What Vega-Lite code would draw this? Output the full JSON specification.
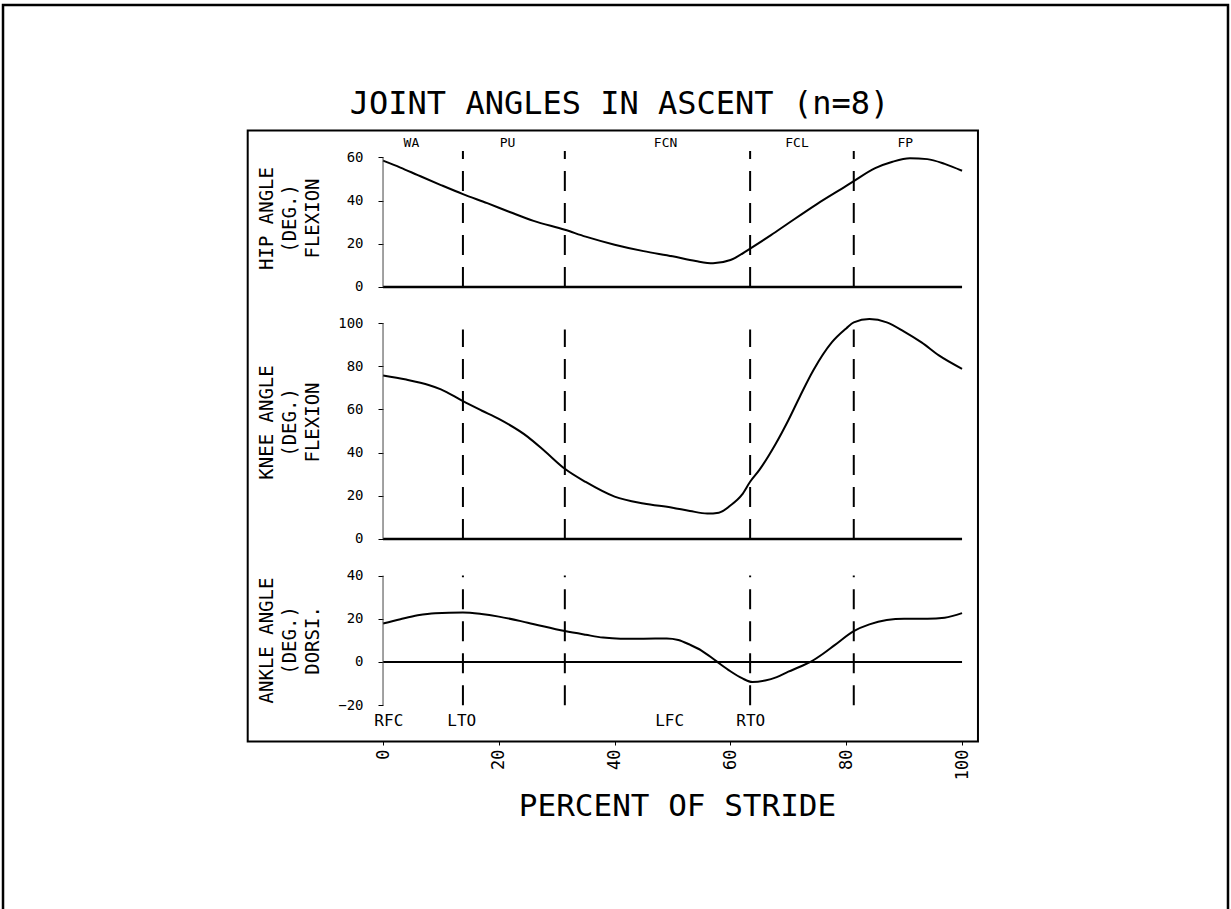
{
  "$schema": "https://vega.github.io/schema/vega-lite/v6.json",
  "width": 1231,
  "height": 741,
  "autosize": {"type": "none"},
  "padding": {"left": 0, "top": 0, "right": 0, "bottom": 168},
  "background": "white",
  "title": {
    "text": "JOINT ANGLES IN ASCENT (n=8)",
    "font": "DejaVu Sans Mono",
    "fontSize": 32,
    "fontWeight": "normal",
    "color": "black",
    "anchor": "middle",
    "frame": "group",
    "offset": -146,
    "baseline": "alphabetic",
    "dx": 4
  },
  "config": {
    "view": {"stroke": null},
    "font": "DejaVu Sans Mono",
    "text": {"font": "DejaVu Sans Mono", "color": "black"},
    "axis": {
      "labelFont": "DejaVu Sans Mono",
      "titleFont": "DejaVu Sans Mono",
      "labelColor": "black",
      "titleColor": "black",
      "titleFontWeight": "normal",
      "tickColor": "black",
      "grid": false,
      "labelFlush": false,
      "labelBound": false,
      "labelOverlap": false
    }
  },
  "datasets": {
    "hip": [
      {"pct": 0, "angle": 58.5}, {"pct": 3, "angle": 55.3}, {"pct": 6, "angle": 51.8},
      {"pct": 10, "angle": 47.2}, {"pct": 13.8, "angle": 43}, {"pct": 18, "angle": 38.8},
      {"pct": 22, "angle": 34.6}, {"pct": 26, "angle": 30.6}, {"pct": 31.4, "angle": 26.5},
      {"pct": 35, "angle": 23.3}, {"pct": 40, "angle": 19.6}, {"pct": 45, "angle": 16.6},
      {"pct": 50, "angle": 14.2}, {"pct": 54, "angle": 12}, {"pct": 57, "angle": 11},
      {"pct": 60, "angle": 12.5}, {"pct": 63.4, "angle": 17.8}, {"pct": 67, "angle": 24},
      {"pct": 70, "angle": 29.5}, {"pct": 75, "angle": 38.5}, {"pct": 80, "angle": 46.8},
      {"pct": 81.3, "angle": 49}, {"pct": 85, "angle": 55}, {"pct": 88, "angle": 58},
      {"pct": 91, "angle": 59.6}, {"pct": 94, "angle": 59.2}, {"pct": 97, "angle": 57},
      {"pct": 100, "angle": 53.8}
    ],
    "knee": [
      {"pct": 0, "angle": 75.7}, {"pct": 4, "angle": 73.8}, {"pct": 8, "angle": 71.2},
      {"pct": 10, "angle": 69.3}, {"pct": 13.8, "angle": 63.8}, {"pct": 17, "angle": 59.5},
      {"pct": 20, "angle": 55.6}, {"pct": 25, "angle": 47.3}, {"pct": 28, "angle": 40.5},
      {"pct": 31.4, "angle": 32.5}, {"pct": 35, "angle": 26.4}, {"pct": 40, "angle": 19.6},
      {"pct": 45, "angle": 16.4}, {"pct": 50, "angle": 14.5}, {"pct": 53, "angle": 13},
      {"pct": 56, "angle": 11.8}, {"pct": 58, "angle": 12.2}, {"pct": 60, "angle": 15.5},
      {"pct": 62, "angle": 20.5}, {"pct": 63.4, "angle": 26.5}, {"pct": 65, "angle": 32},
      {"pct": 67.8, "angle": 44}, {"pct": 70, "angle": 55}, {"pct": 72, "angle": 66},
      {"pct": 74.3, "angle": 78}, {"pct": 77.5, "angle": 91}, {"pct": 80, "angle": 97.5},
      {"pct": 81.3, "angle": 100.3}, {"pct": 84, "angle": 101.8}, {"pct": 87, "angle": 100.3},
      {"pct": 90, "angle": 96}, {"pct": 93, "angle": 91}, {"pct": 96, "angle": 85},
      {"pct": 100, "angle": 78.8}
    ],
    "ankle": [
      {"pct": 0, "angle": 17.8}, {"pct": 3, "angle": 19.8}, {"pct": 6, "angle": 21.6},
      {"pct": 9, "angle": 22.6}, {"pct": 13.8, "angle": 22.9}, {"pct": 17, "angle": 22.2},
      {"pct": 20, "angle": 21}, {"pct": 25, "angle": 18.2}, {"pct": 31.4, "angle": 14.3},
      {"pct": 35, "angle": 12.6}, {"pct": 38, "angle": 11.3}, {"pct": 41, "angle": 10.8},
      {"pct": 45, "angle": 10.8}, {"pct": 49, "angle": 10.9}, {"pct": 51, "angle": 10.2},
      {"pct": 53, "angle": 8}, {"pct": 55, "angle": 5.3}, {"pct": 57.5, "angle": 0.5},
      {"pct": 60, "angle": -4.3}, {"pct": 62, "angle": -7.5}, {"pct": 63.8, "angle": -9.3},
      {"pct": 66, "angle": -8.6}, {"pct": 68, "angle": -7}, {"pct": 70, "angle": -4.5},
      {"pct": 72, "angle": -2.2}, {"pct": 74, "angle": 0.3}, {"pct": 76, "angle": 3.8},
      {"pct": 78, "angle": 7.8}, {"pct": 81.3, "angle": 14.3}, {"pct": 84, "angle": 17.4},
      {"pct": 87, "angle": 19.4}, {"pct": 90, "angle": 20}, {"pct": 94, "angle": 20},
      {"pct": 97, "angle": 20.5}, {"pct": 100, "angle": 22.6}
    ],
    "events": [{"pct": 13.8}, {"pct": 31.4}, {"pct": 63.4}, {"pct": 81.3}],
    "phases": [
      {"pct": 4.9, "label": "WA"}, {"pct": 21.5, "label": "PU"}, {"pct": 48.8, "label": "FCN"},
      {"pct": 71.5, "label": "FCL"}, {"pct": 90.2, "label": "FP"}
    ],
    "eventLabels": [
      {"pct": 1.0, "label": "RFC"}, {"pct": 13.6, "label": "LTO"},
      {"pct": 49.5, "label": "LFC"}, {"pct": 63.5, "label": "RTO"}
    ],
    "one": [{"n": 1}]
  },
  "resolve": {"scale": {"y": "independent"}, "axis": {"x": "independent", "y": "independent"}},
  "layer": [
    {
      "data": {"name": "one"},
      "mark": {"type": "rect", "filled": false, "stroke": "black", "strokeWidth": 2.5},
      "encoding": {
        "x": {"datum": -65.63, "scale": {"domain": [-66.15, 146.45], "nice": false, "zero": false}, "axis": null},
        "x2": {"datum": 145.93},
        "y": {"datum": 130.55, "scale": {"domain": [-210.19, 132.87], "nice": false, "zero": false}, "axis": null},
        "y2": {"datum": -290.75}
      }
    },
    {
      "data": {"name": "one"},
      "mark": {"type": "rect", "filled": false, "stroke": "black", "strokeWidth": 2},
      "encoding": {
        "x": {"datum": -23.37, "scale": {"domain": [-66.15, 146.45], "nice": false, "zero": false}, "axis": null},
        "x2": {"datum": 102.75},
        "y": {"datum": 72.45, "scale": {"domain": [-210.19, 132.87], "nice": false, "zero": false}, "axis": null},
        "y2": {"datum": -210.42}
      }
    },
    {
      "data": {"name": "hip"},
      "mark": {"type": "line", "color": "black", "strokeWidth": 2, "interpolate": "monotone"},
      "encoding": {
        "x": {"field": "pct", "type": "quantitative", "scale": {"domain": [-66.15, 146.45], "nice": false, "zero": false}, "axis": null},
        "y": {
          "field": "angle", "type": "quantitative",
          "scale": {"domain": [-210.19, 132.87], "nice": false, "zero": false},
          "axis": {
            "orient": "left", "offset": -383, "values": [0, 20, 40, 60], "domain": false,
            "ticks": true, "tickSize": 5, "labelPadding": 15, "labelFontSize": 14,
            "title": ["HIP ANGLE", "(DEG.)", "FLEXION"], "titleFontSize": 19, "titleLineHeight": 23,
            "titleAngle": 270, "titleBaseline": "bottom", "titleAlign": "center",
            "titleX": -107, "titleY": 218
          }
        }
      }
    },
    {
      "data": {"name": "events"},
      "mark": {"type": "rule", "color": "black", "strokeWidth": 2, "strokeDash": [20, 12]},
      "encoding": {
        "x": {"field": "pct", "type": "quantitative", "scale": {"domain": [-66.15, 146.45], "nice": false, "zero": false}, "axis": null},
        "y": {"datum": 0, "scale": {"domain": [-210.19, 132.87], "nice": false, "zero": false}, "axis": null},
        "y2": {"datum": 63}
      }
    },
    {
      "data": {"name": "one"},
      "mark": {"type": "rule", "color": "black", "strokeWidth": 2.5},
      "encoding": {
        "x": {"datum": 0, "scale": {"domain": [-66.15, 146.45], "nice": false, "zero": false}, "axis": null},
        "x2": {"datum": 100},
        "y": {"datum": 0, "scale": {"domain": [-210.19, 132.87], "nice": false, "zero": false}, "axis": null}
      }
    },
    {
      "data": {"name": "one"},
      "mark": {"type": "rule", "color": "#444", "strokeWidth": 1},
      "encoding": {
        "x": {"datum": 0, "scale": {"domain": [-66.15, 146.45], "nice": false, "zero": false}, "axis": null},
        "y": {"datum": 0, "scale": {"domain": [-210.19, 132.87], "nice": false, "zero": false}, "axis": null},
        "y2": {"datum": 60}
      }
    },
    {
      "data": {"name": "phases"},
      "mark": {"type": "text", "fontSize": 13, "baseline": "middle", "align": "center", "color": "black"},
      "encoding": {
        "x": {"field": "pct", "type": "quantitative", "scale": {"domain": [-66.15, 146.45], "nice": false, "zero": false}, "axis": null},
        "y": {"datum": 66.7, "scale": {"domain": [-210.19, 132.87], "nice": false, "zero": false}, "axis": null},
        "text": {"field": "label"}
      }
    },
    {
      "data": {"name": "knee"},
      "mark": {"type": "line", "color": "black", "strokeWidth": 2, "interpolate": "monotone"},
      "encoding": {
        "x": {"field": "pct", "type": "quantitative", "scale": {"domain": [-66.15, 146.45], "nice": false, "zero": false}, "axis": null},
        "y": {
          "field": "angle", "type": "quantitative",
          "scale": {"domain": [-93.52, 249.54], "nice": false, "zero": false},
          "axis": {
            "orient": "left", "offset": -383, "values": [0, 20, 40, 60, 80, 100], "domain": false,
            "ticks": true, "tickSize": 5, "labelPadding": 15, "labelFontSize": 14,
            "title": ["KNEE ANGLE", "(DEG.)", "FLEXION"], "titleFontSize": 19, "titleLineHeight": 23,
            "titleAngle": 270, "titleBaseline": "bottom", "titleAlign": "center",
            "titleX": -107, "titleY": 422
          }
        }
      }
    },
    {
      "data": {"name": "events"},
      "mark": {"type": "rule", "color": "black", "strokeWidth": 2, "strokeDash": [20, 12]},
      "encoding": {
        "x": {"field": "pct", "type": "quantitative", "scale": {"domain": [-66.15, 146.45], "nice": false, "zero": false}, "axis": null},
        "y": {"datum": 0, "scale": {"domain": [-93.52, 249.54], "nice": false, "zero": false}, "axis": null},
        "y2": {"datum": 97}
      }
    },
    {
      "data": {"name": "one"},
      "mark": {"type": "rule", "color": "black", "strokeWidth": 2.5},
      "encoding": {
        "x": {"datum": 0, "scale": {"domain": [-66.15, 146.45], "nice": false, "zero": false}, "axis": null},
        "x2": {"datum": 100},
        "y": {"datum": 0, "scale": {"domain": [-93.52, 249.54], "nice": false, "zero": false}, "axis": null}
      }
    },
    {
      "data": {"name": "one"},
      "mark": {"type": "rule", "color": "#444", "strokeWidth": 1},
      "encoding": {
        "x": {"datum": 0, "scale": {"domain": [-66.15, 146.45], "nice": false, "zero": false}, "axis": null},
        "y": {"datum": 0, "scale": {"domain": [-93.52, 249.54], "nice": false, "zero": false}, "axis": null},
        "y2": {"datum": 100}
      }
    },
    {
      "data": {"name": "ankle"},
      "mark": {"type": "line", "color": "black", "strokeWidth": 2, "interpolate": "monotone"},
      "encoding": {
        "x": {
          "field": "pct", "type": "quantitative",
          "scale": {"domain": [-66.15, 146.45], "nice": false, "zero": false},
          "axis": {
            "orient": "bottom", "values": [0, 20, 40, 60, 80, 100], "domain": false,
            "ticks": true, "tickSize": 4, "labelPadding": 4, "labelFontSize": 17, "labelAngle": 270,
            "labelAlign": "right", "labelBaseline": "middle",
            "title": "PERCENT OF STRIDE", "titleFontSize": 31, "titleBaseline": "alphabetic",
            "titleX": 677, "titleY": 74
          }
        },
        "y": {
          "field": "angle", "type": "quantitative",
          "scale": {"domain": [-36.58, 306.48], "nice": false, "zero": false},
          "axis": {
            "orient": "left", "offset": -383, "values": [-20, 0, 20, 40], "domain": false,
            "ticks": true, "tickSize": 5, "labelPadding": 15, "labelFontSize": 14,
            "title": ["ANKLE ANGLE", "(DEG.)", "DORSI."], "titleFontSize": 19, "titleLineHeight": 23,
            "titleAngle": 270, "titleBaseline": "bottom", "titleAlign": "center",
            "titleX": -107, "titleY": 640
          }
        }
      }
    },
    {
      "data": {"name": "events"},
      "mark": {"type": "rule", "color": "black", "strokeWidth": 2, "strokeDash": [20, 12]},
      "encoding": {
        "x": {"field": "pct", "type": "quantitative", "scale": {"domain": [-66.15, 146.45], "nice": false, "zero": false}, "axis": null},
        "y": {"datum": -20, "scale": {"domain": [-36.58, 306.48], "nice": false, "zero": false}, "axis": null},
        "y2": {"datum": 40}
      }
    },
    {
      "data": {"name": "one"},
      "mark": {"type": "rule", "color": "black", "strokeWidth": 2},
      "encoding": {
        "x": {"datum": 0, "scale": {"domain": [-66.15, 146.45], "nice": false, "zero": false}, "axis": null},
        "x2": {"datum": 100},
        "y": {"datum": 0, "scale": {"domain": [-36.58, 306.48], "nice": false, "zero": false}, "axis": null}
      }
    },
    {
      "data": {"name": "one"},
      "mark": {"type": "rule", "color": "#444", "strokeWidth": 1},
      "encoding": {
        "x": {"datum": 0, "scale": {"domain": [-66.15, 146.45], "nice": false, "zero": false}, "axis": null},
        "y": {"datum": -20, "scale": {"domain": [-36.58, 306.48], "nice": false, "zero": false}, "axis": null},
        "y2": {"datum": 40}
      }
    },
    {
      "data": {"name": "eventLabels"},
      "mark": {"type": "text", "fontSize": 16, "baseline": "middle", "align": "center", "color": "black"},
      "encoding": {
        "x": {"field": "pct", "type": "quantitative", "scale": {"domain": [-66.15, 146.45], "nice": false, "zero": false}, "axis": null},
        "y": {"datum": -27.3, "scale": {"domain": [-36.58, 306.48], "nice": false, "zero": false}, "axis": null},
        "text": {"field": "label"}
      }
    }
  ]
}
